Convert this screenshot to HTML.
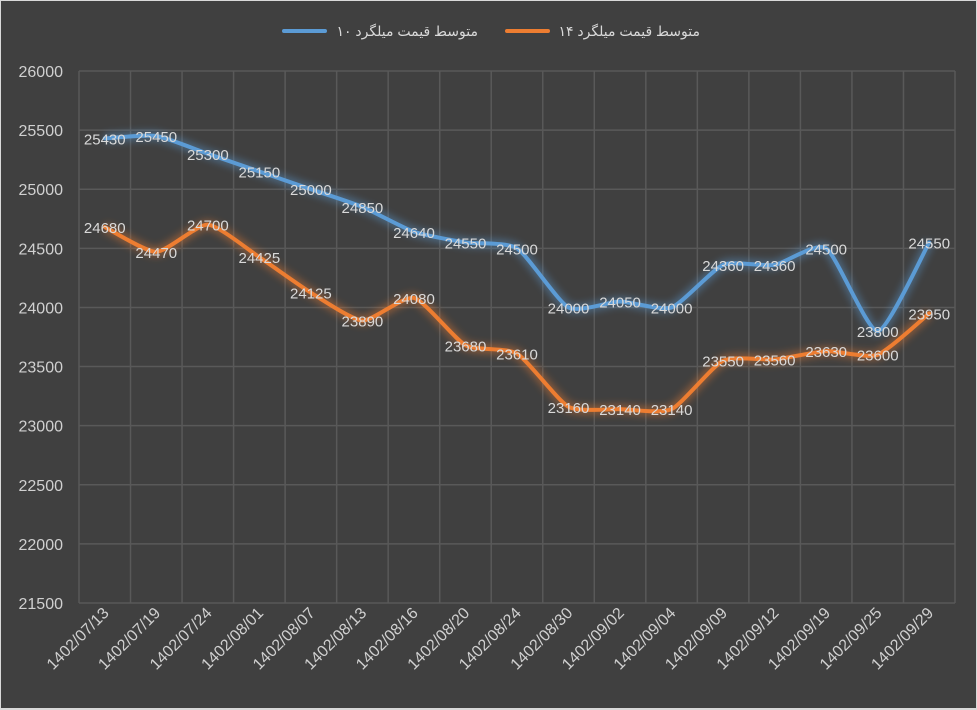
<!DOCTYPE html>
<html><head><meta charset="utf-8"><style>
html,body{margin:0;padding:0;background:#d9d9d9}
#c{position:absolute;left:0;top:0;width:977px;height:710px}
text{font-family:"Liberation Sans","DejaVu Sans",sans-serif}
</style></head><body>
<svg id="c" width="977" height="710">
<defs><filter id="glow" x="-10%" y="-20%" width="120%" height="140%"><feGaussianBlur stdDeviation="4"/></filter></defs>
<rect x="1" y="1" width="975" height="707" fill="#404040"/>
<g id="grid"></g><g id="ylab"></g><g id="xlab"></g><g id="lines"></g><g id="dl"></g>
<g>
<g><line x1="284" y1="31" x2="325" y2="31" stroke="#5b9bd5" stroke-width="4" stroke-linecap="round"/>
<text x="478" y="36" text-anchor="end" font-size="14" fill="#d9d9d9">متوسط قیمت میلگرد ۱۰</text></g>
<g><line x1="507" y1="31" x2="548" y2="31" stroke="#ed7d31" stroke-width="4" stroke-linecap="round"/>
<text x="700" y="36" text-anchor="end" font-size="14" fill="#d9d9d9">متوسط قیمت میلگرد ۱۴</text></g>
</g>
</svg>
<script>
const categories=["1402/07/13","1402/07/19","1402/07/24","1402/08/01","1402/08/07","1402/08/13","1402/08/16","1402/08/20","1402/08/24","1402/08/30","1402/09/02","1402/09/04","1402/09/09","1402/09/12","1402/09/19","1402/09/25","1402/09/29"];
const series10=[25430,25450,25300,25150,25000,24850,24640,24550,24500,24000,24050,24000,24360,24360,24500,23800,24550];
const series14=[24680,24470,24700,24425,24125,23890,24080,23680,23610,23160,23140,23140,23550,23560,23630,23600,23950];
const yTicks=[26000,25500,25000,24500,24000,23500,23000,22500,22000,21500];
const NS="http://www.w3.org/2000/svg";
const L=79,R=955,T=71,B=603,ymin=21500,ymax=26000;
const step=(R-L)/categories.length;
const X=i=>L+step*(i+0.5);
const Y=v=>B-(v-ymin)/(ymax-ymin)*(B-T);
function mk(tag,attrs,parent,txt){const e=document.createElementNS(NS,tag);for(const k in attrs)e.setAttribute(k,attrs[k]);if(txt!=null)e.textContent=txt;parent.appendChild(e);return e;}
const grid=document.getElementById('grid'),ylab=document.getElementById('ylab'),xlab=document.getElementById('xlab'),lines=document.getElementById('lines'),dl=document.getElementById('dl');
yTicks.forEach(v=>{
 const g=mk('line',{x1:L,x2:R,y1:Y(v),y2:Y(v),stroke:'#595959','stroke-width':1.5},grid);
 
 
 const t=mk('text',{x:63,y:Y(v)+6,'text-anchor':'end','font-size':16,fill:'#d0d0d0'},ylab,v);
 
 
});
for(let i=0;i<=categories.length;i++){
 const g=mk('line',{x1:L+step*i,x2:L+step*i,y1:T,y2:B,stroke:'#595959','stroke-width':1.5},grid);
 
 
}
categories.forEach((c,i)=>{
 const x=X(i)+5,y=614;
 const t=mk('text',{x:x,y:y,'text-anchor':'end','font-size':16,fill:'#d0d0d0',transform:`rotate(-45 ${x} ${y})`},xlab,c);
 
 
});
function pathD(vals){
 const p=vals.map((v,i)=>[X(i),Y(v)]);let d=`M${p[0][0]},${p[0][1]}`;
 for(let i=0;i<p.length-1;i++){const p0=p[i-1]||p[i],p1=p[i],p2=p[i+1],p3=p[i+2]||p2;const k=0.1;
  d+=` C${p1[0]+(p2[0]-p0[0])*k},${p1[1]+(p2[1]-p0[1])*k} ${p2[0]-(p3[0]-p1[0])*k},${p2[1]-(p3[1]-p1[1])*k} ${p2[0]},${p2[1]}`;}
 return d;
}
[[series10,'#5b9bd5','series-10'],[series14,'#ed7d31','series-14']].forEach(([vals,col,name])=>{
 const gl=mk('path',{d:pathD(vals),fill:'none',stroke:col,'stroke-width':9,opacity:0.45,filter:'url(#glow)'},lines);
 
 
 const p=mk('path',{d:pathD(vals),fill:'none',stroke:col,'stroke-width':4,'stroke-linecap':'round','stroke-linejoin':'round'},lines);
 
 
 vals.forEach((v,i)=>{
  const t=mk('text',{x:X(i),y:Y(v)+6,'text-anchor':'middle','font-size':15,fill:'#d9d9d9'},dl,v);
  
  
 });
});
</script>
</body></html>
